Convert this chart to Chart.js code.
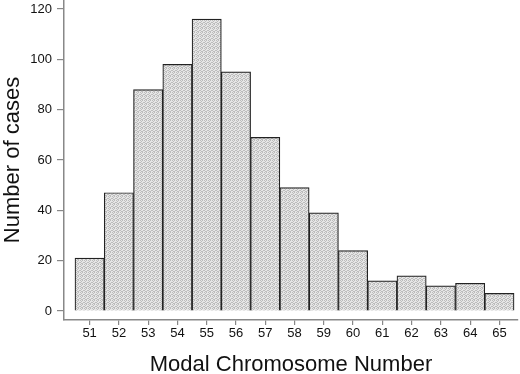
<!DOCTYPE html>
<html>
<head>
<meta charset="utf-8">
<script src="https://cdn.jsdelivr.net/npm/chart.js@4/dist/chart.umd.min.js"></script>
<style>
  html, body { margin: 0; padding: 0; background: #fff; }
  #wrap { width: 520px; height: 374px; }
</style>
</head>
<body>
<div id="wrap"><canvas id="grafico"></canvas></div>
<script>
const cromosomas = [51, 52, 53, 54, 55, 56, 57, 58, 59, 60, 61, 62, 63, 64, 65];
const casos = [21, 47, 88, 98, 116, 95, 69, 49, 39, 24, 12, 14, 10, 11, 7];
const ticksY = [0, 20, 40, 60, 80, 100, 120];

const fuente = "'Liberation Sans', Arial, Helvetica, sans-serif";

// trama punteada de las barras (tablero fino)
function trama() {
    const c = document.createElement('canvas');
    c.width = 4; c.height = 4;
    const g = c.getContext('2d');
    g.fillStyle = '#e6e6e6';
    g.fillRect(0, 0, 4, 4);
    g.fillStyle = '#bcbcbc';
    [[0, 0], [2, 0], [1, 1], [3, 2], [0, 2], [2, 3], [1, 3]].forEach(p => g.fillRect(p[0], p[1], 1, 1));
    return g.createPattern(c, 'repeat');
}

const ctx = document.getElementById('grafico').getContext('2d');
new Chart(ctx, {
    type: 'bar',
    data: {
        datasets: [{
            data: cromosomas.map((c, i) => ({ x: c, y: casos[i] })),
            backgroundColor: trama(),
            borderColor: '#222',
            borderWidth: 1.2,
            barPercentage: 1,
            categoryPercentage: 1
        }]
    },
    options: {
        responsive: true,
        maintainAspectRatio: false,
        animation: false,
        layout: { padding: { left: 0, right: 2, top: 0, bottom: 0 } },
        plugins: {
            legend: { display: false },
            tooltip: { enabled: false }
        },
        scales: {
            x: {
                type: 'linear',
                offset: false,
                min: 50.125,
                max: 65.635,
                afterBuildTicks: s => { s.ticks = cromosomas.map(v => ({ value: v })); },
                afterFit: s => { s.height = 54; s.paddingLeft = 0; s.paddingRight = 0; },
                grid: { offset: false, drawOnChartArea: false, drawTicks: true, tickLength: 5, color: '#888', lineWidth: 1.2 },
                border: { display: true, color: '#888', width: 1.5 },
                ticks: { color: '#111', font: { family: fuente, size: 13 }, padding: 1, maxRotation: 0, autoSkip: false },
                title: {
                    display: true,
                    text: 'Modal Chromosome Number',
                    color: '#111',
                    font: { family: fuente, size: 22, lineHeight: 1 },
                    padding: { top: 0, bottom: -2 }
                }
            },
            y: {
                min: -3.58,
                max: 123.58,
                afterBuildTicks: s => { s.ticks = ticksY.map(v => ({ value: v })); },
                afterFit: s => { s.width = 64; s.paddingTop = 0; s.paddingBottom = 0; },
                grid: { drawOnChartArea: false, drawTicks: true, tickLength: 7, color: '#888', lineWidth: 1.2 },
                border: { display: true, color: '#888', width: 1.5 },
                ticks: { color: '#111', font: { family: fuente, size: 13 }, padding: 5 },
                title: {
                    display: true,
                    text: 'Number of cases',
                    color: '#111',
                    font: { family: fuente, size: 22, lineHeight: 1 },
                    padding: { top: 2, bottom: 0 }
                }
            }
        }
    }
});
</script>
</body>
</html>
